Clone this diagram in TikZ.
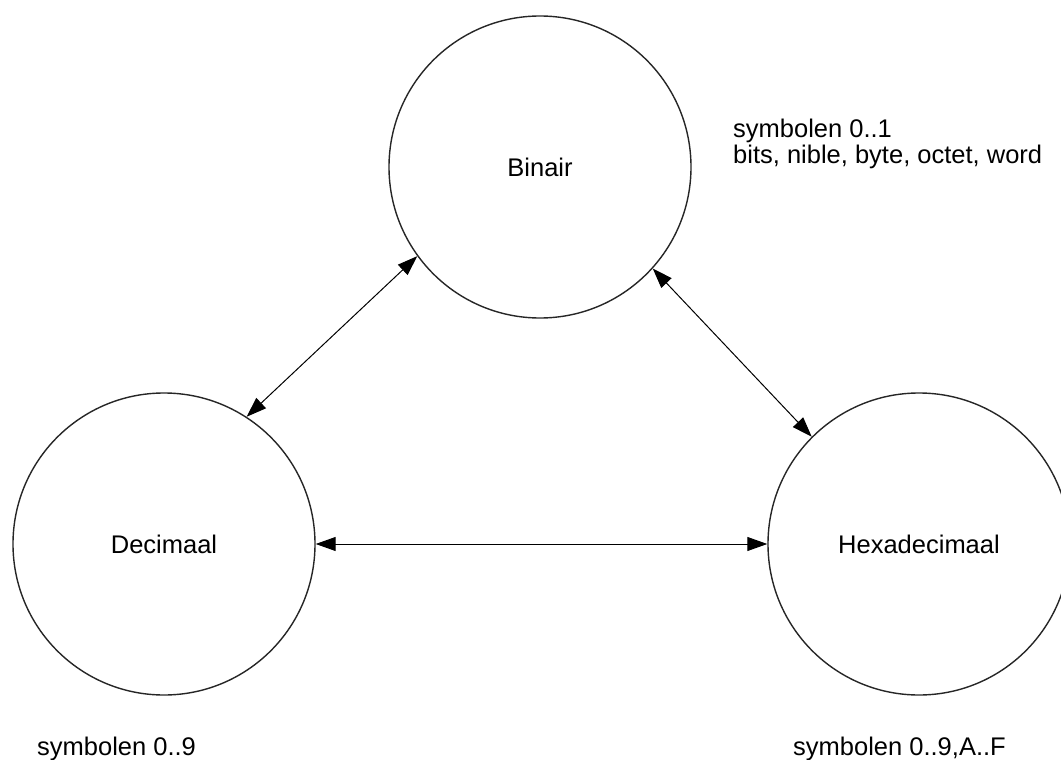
\documentclass[tikz,border=0pt]{standalone}
\usepackage{fontspec}
\setmainfont{Liberation Sans}
\usetikzlibrary{arrows.meta}
\begin{document}
\begin{tikzpicture}[x=1pt,y=-1pt,
  numsys/.style={circle,draw=black!85,line width=1.4pt,minimum size=302pt,inner sep=0pt,
    font=\fontsize{25.5}{30}\selectfont},
  note/.style={anchor=base west,inner sep=0pt,font=\fontsize{25.5}{30}\selectfont},
  conv/.style={line width=1pt,{Triangle[length=20pt,width=14pt]}-{Triangle[length=20pt,width=14pt]}}]
  \useasboundingbox (0,0) rectangle (1061,760);
  % the three number systems
  \node[numsys] (bin) at (540,167) {Binair};
  \node[numsys] (dec) at (164,544) {Decimaal};
  \node[numsys] (hex) at (919,544) {Hexadecimaal};
  % conversions between them
  \draw[conv] (dec.57) -- (bin.216.7);
  \draw[conv] (bin.318.6) -- (hex.135);
  \draw[conv] (dec.0) -- (hex.180);
  % notes on the symbols used
  \node[note] (binnote1) at (733,137) {symbolen 0..1};
  \node[note] (binnote2) at (733,163) {bits, nible, byte, octet, word};
  \node[note] (decnote) at (37,755) {symbolen 0..9};
  \node[note] (hexnote) at (793,755) {symbolen 0..9,A..F};
\end{tikzpicture}
\end{document}
